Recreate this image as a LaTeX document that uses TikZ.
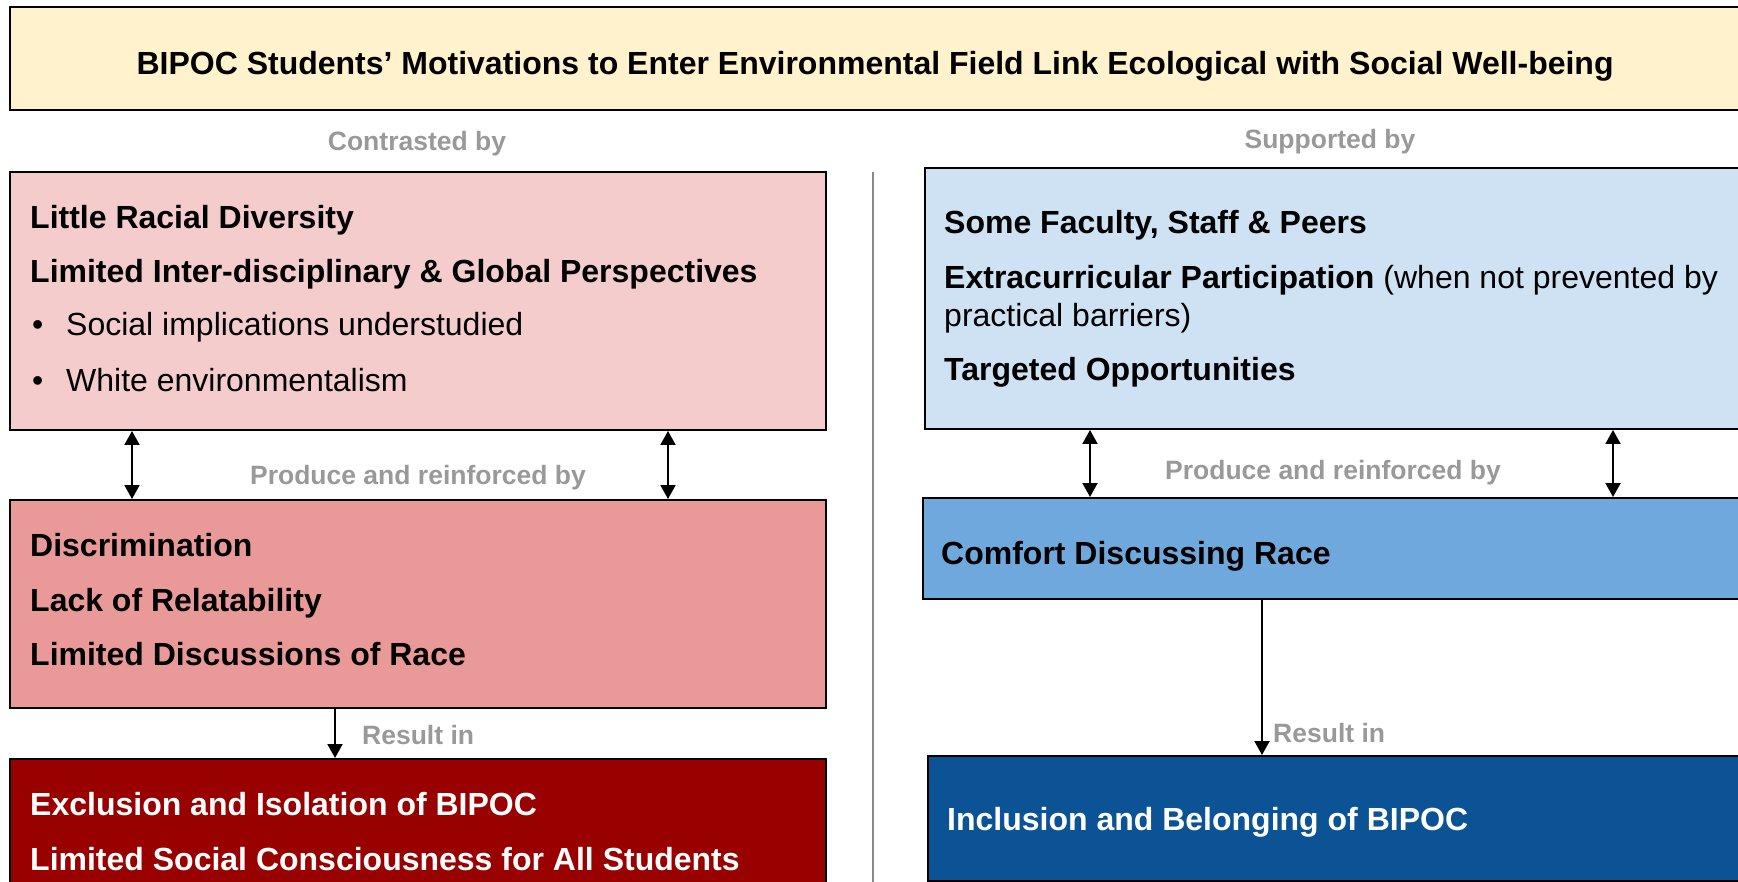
\documentclass[tikz,border=0pt]{standalone}
\usepackage{fontspec}
\setmainfont{Liberation Sans}
\usetikzlibrary{arrows.meta}

\definecolor{titlefill}{HTML}{FFF2CC}
\definecolor{redlight}{HTML}{F4CCCC}
\definecolor{redmid}{HTML}{EA9999}
\definecolor{reddark}{HTML}{990000}
\definecolor{bluelight}{HTML}{CFE2F3}
\definecolor{bluemid}{HTML}{6FA8DC}
\definecolor{bluedark}{HTML}{0B5394}
\definecolor{labelgray}{HTML}{999999}
\definecolor{rulegray}{HTML}{8A8A8A}

\begin{document}
\begin{tikzpicture}[x=1pt,y=-1pt,
  box/.style={draw=black, line width=2pt, anchor=north west, inner sep=0pt},
  txt/.style={anchor=base west, inner sep=0pt, font=\fontsize{32}{38}\selectfont},
  hd/.style={txt, font=\fontsize{32}{38}\selectfont\bfseries},
  tag/.style={inner sep=0pt, text=labelgray, font=\fontsize{26.5}{32}\selectfont\bfseries},
  tip/.tip={Triangle[length=14pt,width=15pt]},
  link/.style={line width=2pt, -tip},
  twoway/.style={line width=2pt, tip-tip}
]
\useasboundingbox (0,0) rectangle (1738,882);
\clip (0,0) rectangle (1738,882);

% heading band
\node[box, fill=titlefill, minimum width=1732pt, minimum height=103pt] (title) at (9,6) {};
\node[anchor=base, inner sep=0pt, font=\fontsize{32}{38}\selectfont\bfseries] (titletext) at (875,75)
  {BIPOC Students’ Motivations to Enter Environmental Field Link Ecological with Social Well-being};

% column divider
\draw[rulegray, line width=1.6pt] (873,172) -- (873,890);

% ---------- left column ----------
\node[tag, anchor=base] (contrasted) at (417,151) {Contrasted by};
\node[box, fill=redlight, minimum width=816pt, minimum height=258pt] (lowdiv) at (9,171) {};
\node[hd] (l1) at (30,229) {Little Racial Diversity};
\node[hd] (l2) at (30,283) {Limited Inter-disciplinary \& Global Perspectives};
\node[txt] (b1) at (32,336) {•};
\node[txt] (l3) at (66,336) {Social implications understudied};
\node[txt] (b2) at (32,392) {•};
\node[txt] (l4) at (66,392) {White environmentalism};

\node[box, fill=redmid, minimum width=816pt, minimum height=208pt] (causesL) at (9,499) {};
\node[hd] (c1) at (30,556) {Discrimination};
\node[hd] (c2) at (30,611) {Lack of Relatability};
\node[hd] (c3) at (30,665) {Limited Discussions of Race};
\node[tag, anchor=base] (prodL) at (418,484) {Produce and reinforced by};

\node[box, fill=reddark, minimum width=816pt, minimum height=150pt] (outL) at (9,758) {};
\node[hd, text=white] (o1) at (30,815) {Exclusion and Isolation of BIPOC};
\node[hd, text=white] (o2) at (30,870) {Limited Social Consciousness for All Students};
\node[tag, anchor=base west] (resL) at (362,744) {Result in};

\draw[twoway] (132,0 |- lowdiv.south) -- (132,0 |- causesL.north);
\draw[twoway] (668,0 |- lowdiv.south) -- (668,0 |- causesL.north);
\draw[link] (335,0 |- causesL.south) -- (335,0 |- outL.north);

% ---------- right column ----------
\node[tag, anchor=base] (supported) at (1330,149) {Supported by};
\node[box, fill=bluelight, minimum width=821pt, minimum height=261pt] (support) at (924,167) {};
\node[hd] (s1) at (944,234) {Some Faculty, Staff \& Peers};
\node[txt] (s2) at (944,289) {\textbf{Extracurricular Participation} (when not prevented by};
\node[txt] (s3) at (944,327) {practical barriers)};
\node[hd] (s4) at (944,381) {Targeted Opportunities};

\node[box, fill=bluemid, minimum width=823pt, minimum height=101pt] (causesR) at (922,497) {};
\node[hd] (r1) at (941,564) {Comfort Discussing Race};
\node[tag, anchor=base] (prodR) at (1333,479) {Produce and reinforced by};

\node[box, fill=bluedark, minimum width=818pt, minimum height=125pt] (outR) at (927,755) {};
\node[hd, text=white] (p1) at (947,830) {Inclusion and Belonging of BIPOC};
\node[tag, anchor=base west] (resR) at (1273,742) {Result in};

\draw[twoway] (1090,0 |- support.south) -- (1090,0 |- causesR.north);
\draw[twoway] (1613,0 |- support.south) -- (1613,0 |- causesR.north);
\draw[link] (1262,0 |- causesR.south) -- (1262,0 |- outR.north);
\end{tikzpicture}
\end{document}
